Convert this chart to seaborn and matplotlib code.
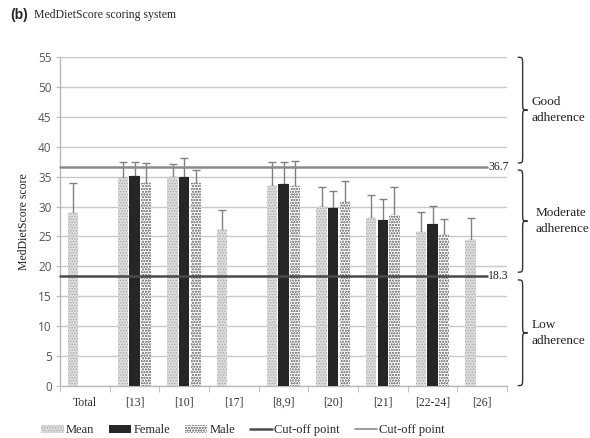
import numpy as np
import pandas as pd
import matplotlib
matplotlib.use("Agg")
import matplotlib.pyplot as plt
import matplotlib.transforms as mtransforms
from matplotlib.path import Path
from matplotlib.patches import PathPatch, Patch
from matplotlib.lines import Line2D
import seaborn as sns

# Studies on the x axis
studies = ["Total", "[13]", "[10]", "[17]", "[8,9]", "[20]", "[21]", "[22-24]", "[26]"]

# Mean MedDietScore per study (all participants) and its SD
mean_vals = [28.9, 34.7, 35.0, 26.1, 33.5, 30.0, 28.1, 25.8, 24.4]
mean_sd = [5.0, 2.8, 2.1, 3.3, 4.0, 3.2, 3.9, 3.2, 3.7]

# Studies reporting results separately by sex (None = not reported)
female_vals = [None, 35.1, 35.0, None, 33.8, 29.7, 27.7, 27.0, None]
female_sd = [None, 2.4, 3.1, None, 3.7, 2.9, 3.5, 3.1, None]
male_vals = [None, 33.9, 34.0, None, 33.5, 30.7, 28.5, 25.2, None]
male_sd = [None, 3.4, 2.1, None, 4.1, 3.5, 4.8, 2.7, None]

groups = ["Mean", "Female", "Male"]
cutoffs = [18.3, 36.7]

rows = []
for g, vals, sds in zip(groups, [mean_vals, female_vals, male_vals], [mean_sd, female_sd, male_sd]):
    for s, v, e in zip(studies, vals, sds):
        if v is not None:
            rows.append({"study": s, "group": g, "score": v, "sd": e})
df = pd.DataFrame(rows)

sns.set_style("white")
plt.rcParams["hatch.linewidth"] = 0.6
serif = ["Liberation Serif", "DejaVu Serif"]

fig = plt.figure(figsize=(5.9, 4.38), dpi=100)
ax = fig.add_axes([60 / 590, 1 - 385.6 / 438, 447 / 590, (385.6 - 57.3) / 438])

palette = {"Mean": "#dcdcdc", "Female": "#262626", "Male": "#ffffff"}
sns.barplot(data=df, x="study", y="score", hue="group", order=studies,
            hue_order=groups, palette=palette, errorbar=None, width=0.7,
            gap=0.1, ax=ax, legend=False, zorder=3)

hatch_style = {"Mean": ("......", "#a8a8a8"), "Female": (None, "#262626"),
               "Male": ("oooooo", "#8f8f8f")}
sd_lookup = {(r.group, r.study): r.sd for r in df.itertuples()}
for g, cont in zip(groups, ax.containers):
    hatch, ec = hatch_style[g]
    xs, tops, errs = [], [], []
    for bar in cont:
        cx = bar.get_x() + bar.get_width() / 2
        h = bar.get_height()
        if np.isnan(h):
            continue
        bar.set_edgecolor(ec)
        bar.set_linewidth(0)
        if hatch:
            bar.set_hatch(hatch)
        s = studies[int(round(cx))]
        xs.append(cx)
        tops.append(h)
        errs.append(sd_lookup[(g, s)])
    ax.errorbar(xs, tops, yerr=[np.zeros(len(errs)), errs], fmt="none",
                ecolor="#808080", elinewidth=1.0, capsize=3, capthick=1.0,
                zorder=2)

# Cut-off lines
cut_styles = {18.3: ("#4a4a4a", 1.8), 36.7: ("#8a8a8a", 1.8)}
for c in cutoffs:
    col, lw = cut_styles[c]
    ax.plot([-0.5, 8.1], [c, c], color=col, lw=lw, zorder=4, clip_on=False)
    ax.text(8.12, c, f"{c}", va="center", ha="left", fontsize=8.5,
            family=serif, color="#222222", zorder=5)

ax.set_ylim(0, 55)
ax.set_xlim(-0.5, len(studies) - 0.5)
ax.set_yticks(np.arange(0, 56, 5))
ax.yaxis.grid(True, color="#c8c8c8", lw=1, zorder=0)
ax.set_axisbelow(True)
for sp in ["top", "right"]:
    ax.spines[sp].set_visible(False)
for sp in ["left", "bottom"]:
    ax.spines[sp].set_color("#b8b8b8")
    ax.spines[sp].set_linewidth(1)

ax.tick_params(axis="y", left=True, length=3, color="#b8b8b8", labelsize=8.5,
               labelcolor="#555555", pad=3)
for t in ax.get_yticklabels():
    t.set_family(["Open Sans", "DejaVu Sans"])
ax.set_xticks(range(len(studies)))
ax.set_xticklabels(studies)
ax.set_xticks(np.arange(-0.5, len(studies), 1), minor=True)
ax.tick_params(axis="x", which="major", length=0, labelsize=8.5, pad=8)
ax.tick_params(axis="x", which="minor", bottom=True, length=4, color="#b8b8b8")
for t in ax.get_xticklabels():
    t.set_family(serif)
    t.set_color("#333333")
ax.set_xlabel("")
ax.set_ylabel("MedDietScore score", family=serif, fontsize=8.5, color="#222222",
              labelpad=6)

# Curly braces marking adherence ranges
trans = mtransforms.blended_transform_factory(ax.transAxes, ax.transData)


def brace(y0, y1, x0=1.024, d=0.022, r=1.4):
    ym = (y0 + y1) / 2
    xm = x0 + d / 2
    xt = x0 + d
    verts = [
        (x0, y1), (xm, y1), (xm, y1), (xm, y1 - r),
        (xm, ym + r),
        (xm, ym), (xm, ym), (xt, ym),
        (xm, ym), (xm, ym), (xm, ym - r),
        (xm, y0 + r),
        (xm, y0), (xm, y0), (x0, y0),
    ]
    codes = [Path.MOVETO, Path.CURVE4, Path.CURVE4, Path.CURVE4,
             Path.LINETO,
             Path.CURVE4, Path.CURVE4, Path.CURVE4,
             Path.CURVE4, Path.CURVE4, Path.CURVE4,
             Path.LINETO,
             Path.CURVE4, Path.CURVE4, Path.CURVE4]
    p = PathPatch(Path(verts, codes), transform=trans, fill=False,
                  lw=1.0, color="#333333", clip_on=False)
    ax.add_patch(p)
    return ym


bands = [(37.3, 55.0, "Good\nadherence", 1.054),
         (19.0, 36.1, "Moderate\nadherence", 1.064),
         (0.0, 17.7, "Low\nadherence", 1.054)]
for y0, y1, label, tx in bands:
    ym = brace(y0, y1)
    ax.text(tx, ym, label, transform=trans, ha="left", va="center",
            fontsize=9.5, family=serif, color="#222222", linespacing=1.5)

# Title
fig.text(10 / 590, 1 - 15 / 438, "(b)", fontsize=10, fontweight="bold",
         family=["Liberation Sans", "DejaVu Sans"], va="center")
fig.text(34 / 590, 1 - 15 / 438, "MedDietScore scoring system", fontsize=8.5,
         family=serif, va="center")

# Legend
handles = [
    Patch(facecolor="#dcdcdc", edgecolor="#a8a8a8", hatch="......", lw=0),
    Patch(facecolor="#262626", edgecolor="#262626", lw=0),
    Patch(facecolor="#ffffff", edgecolor="#8f8f8f", hatch="oooooo", lw=0),
    Line2D([], [], color="#4a4a4a", lw=1.8),
    Line2D([], [], color="#8a8a8a", lw=1.2),
]
labels = ["Mean", "Female", "Male", "Cut-off point", "Cut-off point"]
leg = fig.legend(handles, labels, loc="center", bbox_to_anchor=(243 / 590, 1 - 430 / 438),
                 ncol=5, frameon=False, handlelength=1.8, handleheight=0.6,
                 handletextpad=0.15, columnspacing=1.2,
                 prop={"family": serif, "size": 9})

fig.savefig("out.png", dpi=100)
